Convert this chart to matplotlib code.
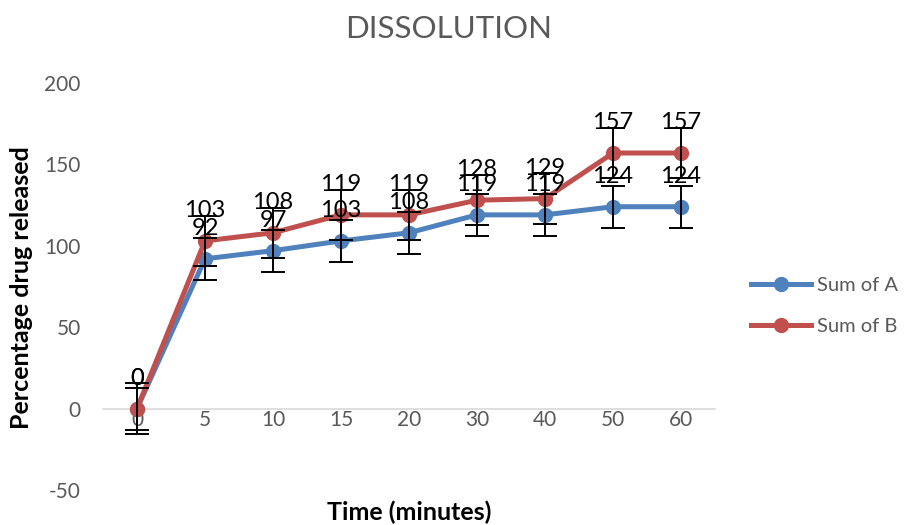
import numpy as np
import matplotlib
matplotlib.use('Agg')
import matplotlib.pyplot as plt

############################## Data ############################################
times = ['0', '5', '10', '15', '20', '30', '40', '50', '60']
sum_a = [0, 92, 97, 103, 108, 119, 119, 124, 124]
sum_b = [0, 103, 108, 119, 119, 128, 129, 157, 157]
err_a = [12.9] * len(times)
err_b = [15.5] * len(times)
y_ticks = [-50, 0, 50, 100, 150, 200]

############################## Style ###########################################
plt.rcParams['font.family'] = ['Lato', 'DejaVu Sans']
plt.rcParams['axes.unicode_minus'] = False
blue = '#4F81BD'
red = '#C0504D'
grey_text = '#595959'

############################## Plot ############################################
fig = plt.figure(figsize=(9.06, 5.25), dpi=100)
ax = fig.add_axes([0.1137, 0.0667, 0.6755, 0.7752])
x = np.arange(len(times))

ax.plot(x, sum_a, '-o', color=blue, lw=3.6, markersize=10, label='Sum of A', zorder=3)
ax.plot(x, sum_b, '-o', color=red, lw=3.6, markersize=10, label='Sum of B', zorder=4)
ax.errorbar(x, sum_a, yerr=err_a, fmt='none', ecolor='black', elinewidth=1.4,
            capsize=8.5, capthick=1.4, zorder=5)
ax.errorbar(x, sum_b, yerr=err_b, fmt='none', ecolor='black', elinewidth=1.4,
            capsize=8.5, capthick=1.4, zorder=6)

## data labels above points
for xi, v in zip(x, sum_a):
    ax.annotate(str(v), (xi, v), xytext=(0, 22), textcoords='offset points',
                ha='center', va='center', fontsize=17, color='black', zorder=7)
for xi, v in zip(x, sum_b):
    ax.annotate(str(v), (xi, v), xytext=(0, 22), textcoords='offset points',
                ha='center', va='center', fontsize=17, color='black', zorder=7)

## axes
ax.set_xlim(-0.5, len(times) - 0.5)
ax.set_ylim(-50, 200)
ax.set_yticks(y_ticks)
ax.set_xticks(x)
ax.set_xticklabels(times)
ax.tick_params(axis='both', length=0, labelsize=15, labelcolor=grey_text)
ax.tick_params(axis='y', pad=16)
ax.tick_params(axis='x', pad=1)
for s in ['top', 'right', 'left']:
    ax.spines[s].set_visible(False)
ax.spines['bottom'].set_position(('data', 0))
ax.spines['bottom'].set_color('#D9D9D9')
ax.spines['bottom'].set_linewidth(1.2)
ax.spines['bottom'].set_zorder(1)

## labels and title
fig.text(0.4954, 0.945, 'DISSOLUTION', ha='center', va='center',
         fontsize=22.5, color=grey_text)
fig.text(0.4514, 0.025, 'Time (minutes)', ha='center', va='center',
         fontsize=18, fontweight='bold')
fig.text(0.024, 0.452, 'Percentage drug released', ha='center', va='center',
         rotation=90, fontsize=18, fontweight='bold')

## legend
leg = fig.legend(loc='center left', bbox_to_anchor=(0.829, 0.417), frameon=False,
                 fontsize=14.5, handlelength=3.0, labelspacing=1.15,
                 handletextpad=0.25, borderpad=0, borderaxespad=0)
for t in leg.get_texts():
    t.set_color(grey_text)

plt.savefig('out.png', dpi=100)
